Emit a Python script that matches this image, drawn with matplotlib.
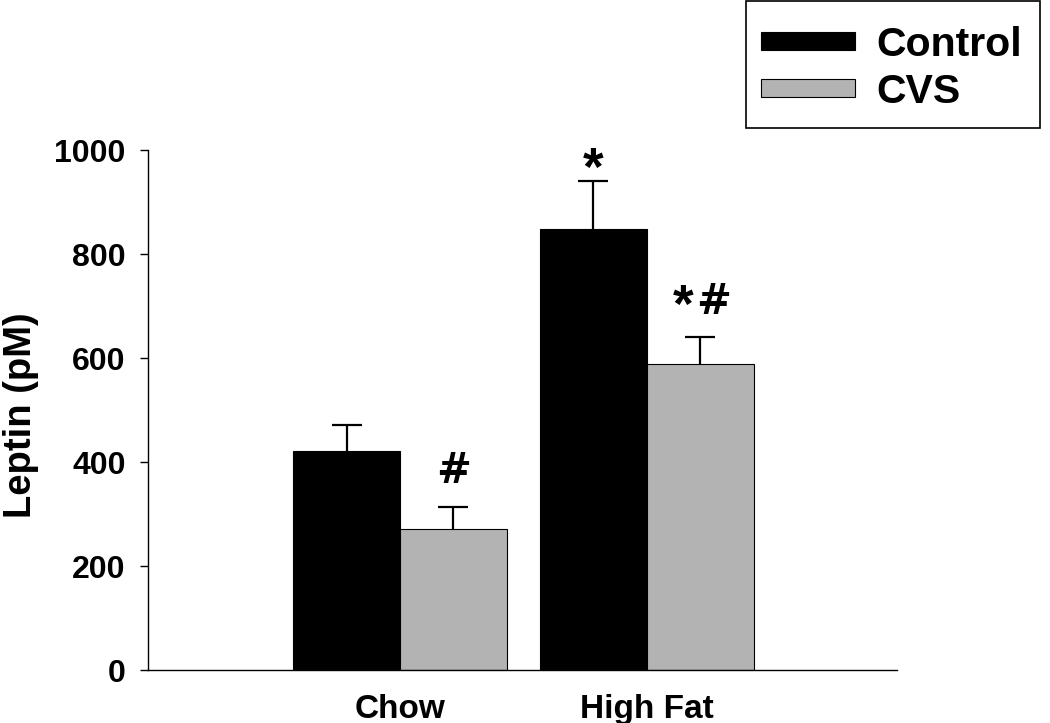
import matplotlib
matplotlib.use('Agg')
import matplotlib.pyplot as plt
from matplotlib.patches import Patch, Rectangle
import numpy as np

plt.rcParams['font.family'] = ['Liberation Sans', 'DejaVu Sans']
plt.rcParams['font.weight'] = 'bold'

groups = ['Chow', 'High Fat']
series = ['Control', 'CVS']
control = [422, 848]
control_err = [49, 92]
cvs = [272, 589]
cvs_err = [42, 51]
control_marks = ['', '*']
cvs_marks = ['#', '*#']

colors = ['black', '#b3b3b3']
width = 1.0
centers = np.array([0.0, 2.31])


def draw_mark(ax, x, top, mark):
    # '#' glyph sits on the baseline, '*' sits high in the em box
    kw = dict(textcoords='offset points', ha='center', va='baseline',
              fontweight='bold', annotation_clip=False)
    hash_kw = dict(fontsize=30, family='DejaVu Sans', **kw)
    if mark == '#':
        ax.annotate('#', (x, top), xytext=(0, 17), **hash_kw)
    elif mark == '*':
        ax.annotate('*', (x, top), xytext=(0, -2.5), fontsize=38, **kw)
    elif mark == '*#':
        ax.annotate('*', (x, top), xytext=(-12, 11), fontsize=38, **kw)
        ax.annotate('#', (x, top), xytext=(9.5, 17), **hash_kw)


fig = plt.figure(figsize=(10.5, 7.23), dpi=100)
ax = fig.add_axes([0.141, 0.0733, 0.713, 0.7192])

for i, (vals, errs, marks) in enumerate([(control, control_err, control_marks),
                                         (cvs, cvs_err, cvs_marks)]):
    xs = centers + (i - 0.5) * width
    ax.bar(xs, vals, width=width, color=colors[i], edgecolor='black',
           linewidth=0.8, zorder=2)
    eb = ax.errorbar(xs, vals, yerr=[np.zeros(len(vals)), errs], fmt='none',
                     ecolor='black', elinewidth=1.6, capsize=11, capthick=1.6,
                     zorder=1)
    # keep only the upper caps
    for cap in eb[1]:
        if np.allclose(cap.get_ydata(), vals):
            cap.set_visible(False)
    for x, v, e, m in zip(xs, vals, errs, marks):
        if m:
            draw_mark(ax, x, v + e, m)

ax.set_xlim(-2.36, 4.65)
ax.set_ylim(0, 1000)
ax.set_yticks(range(0, 1001, 200))
ax.set_xticks(centers)
ax.set_xticklabels(groups)
ax.set_ylabel('Leptin (pM)', fontsize=27.5, fontweight='bold')
ax.yaxis.set_label_coords(-0.146, 0.49)

for s in ['top', 'right']:
    ax.spines[s].set_visible(False)
for s in ['left', 'bottom']:
    ax.spines[s].set_linewidth(1.0)
ax.tick_params(axis='y', direction='out', length=6, width=1, labelsize=23, pad=10)
ax.tick_params(axis='x', length=0, labelsize=24, pad=17)

# legend with a plain square box
fig.add_artist(Rectangle((746 / 1050, 1 - 128 / 723), 294 / 1050, 127 / 723,
                         transform=fig.transFigure, facecolor='none',
                         edgecolor='black', linewidth=1.2))
handles = [Patch(facecolor=c, edgecolor='black', linewidth=0.8) for c in colors]
leg = fig.legend(handles, series, loc='upper left',
                 bbox_to_anchor=(761 / 1050, 1 - 26 / 723),
                 frameon=False, fontsize=29.5,
                 handlelength=2.3, handleheight=0.3, handletextpad=0.52,
                 borderpad=0, labelspacing=0.22, borderaxespad=0)

fig.savefig('out.png', dpi=100)
